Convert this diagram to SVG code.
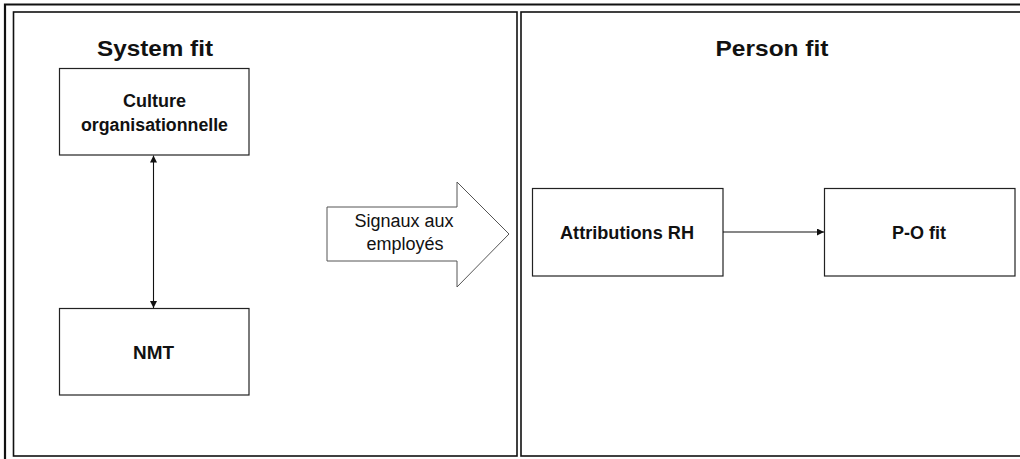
<svg xmlns="http://www.w3.org/2000/svg" width="1020" height="459" viewBox="0 0 1020 459">
  <style>
    .frame { fill: none; stroke: #111; stroke-width: 2.2; }
    .panel { fill: #fff; stroke: #111; stroke-width: 1.6; }
    .box { fill: #fff; stroke: #222; stroke-width: 1.2; }
    .title { font-family: "Liberation Sans", Arial, sans-serif; font-weight: bold; font-size: 22px; fill: #111; text-anchor: middle; }
    .label { font-family: "Liberation Sans", Arial, sans-serif; font-weight: bold; font-size: 18px; fill: #111; text-anchor: middle; }
    .plain { font-family: "Liberation Sans", Arial, sans-serif; font-size: 18px; fill: #111; text-anchor: middle; }
    .link { fill: none; stroke: #111; stroke-width: 1.1; }
    .block { fill: #fff; stroke: #555; stroke-width: 1; }
  </style>
  <defs>
    <marker id="head" viewBox="0 0 10 10" refX="10" refY="5" markerWidth="7" markerHeight="7" markerUnits="userSpaceOnUse" orient="auto-start-reverse">
      <path d="M0,0 L10,5 L0,10 z" fill="#111"/>
    </marker>
  </defs>

  <rect width="1020" height="459" fill="#fff"/>

  <!-- outer frame -->
  <path class="frame" d="M1020,4.5 H5 V459"/>

  <!-- panels -->
  <g id="panel-system">
    <rect class="panel" x="13.5" y="12" width="503.5" height="444"/>
    <text class="title" x="155" y="56" textLength="116" lengthAdjust="spacingAndGlyphs">System fit</text>
  </g>
  <g id="panel-person">
    <rect class="panel" x="521" y="12" width="510" height="444"/>
    <text class="title" x="772" y="56" textLength="113" lengthAdjust="spacingAndGlyphs">Person fit</text>
  </g>

  <!-- nodes -->
  <g id="culture">
    <rect class="box" x="59.5" y="68.5" width="189.5" height="86.5"/>
    <text class="label" x="154.5" y="107">Culture</text>
    <text class="label" x="154.5" y="131" textLength="147" lengthAdjust="spacingAndGlyphs">organisationnelle</text>
  </g>
  <g id="nmt">
    <rect class="box" x="59.5" y="308.5" width="189.5" height="86.5"/>
    <text class="label" x="153.5" y="359" textLength="41" lengthAdjust="spacingAndGlyphs">NMT</text>
  </g>
  <g id="signaux">
    <polygon class="block" points="327,207 457,207 457,182 509,234 457,287 457,261 327,261"/>
    <text class="plain" x="404" y="227">Signaux aux</text>
    <text class="plain" x="405" y="250">employés</text>
  </g>
  <g id="attributions">
    <rect class="box" x="532.5" y="188.5" width="190.5" height="87.5"/>
    <text class="label" x="627" y="239" textLength="134" lengthAdjust="spacingAndGlyphs">Attributions RH</text>
  </g>
  <g id="pofit">
    <rect class="box" x="824.5" y="188.5" width="190.5" height="87.5"/>
    <text class="label" x="919" y="239" textLength="54" lengthAdjust="spacingAndGlyphs">P-O fit</text>
  </g>

  <!-- connectors -->
  <g id="connectors">
    <line class="link" x1="153.5" y1="155.5" x2="153.5" y2="308" marker-start="url(#head)" marker-end="url(#head)"/>
    <line class="link" x1="723" y1="232" x2="824" y2="232" marker-end="url(#head)"/>
  </g>
</svg>
